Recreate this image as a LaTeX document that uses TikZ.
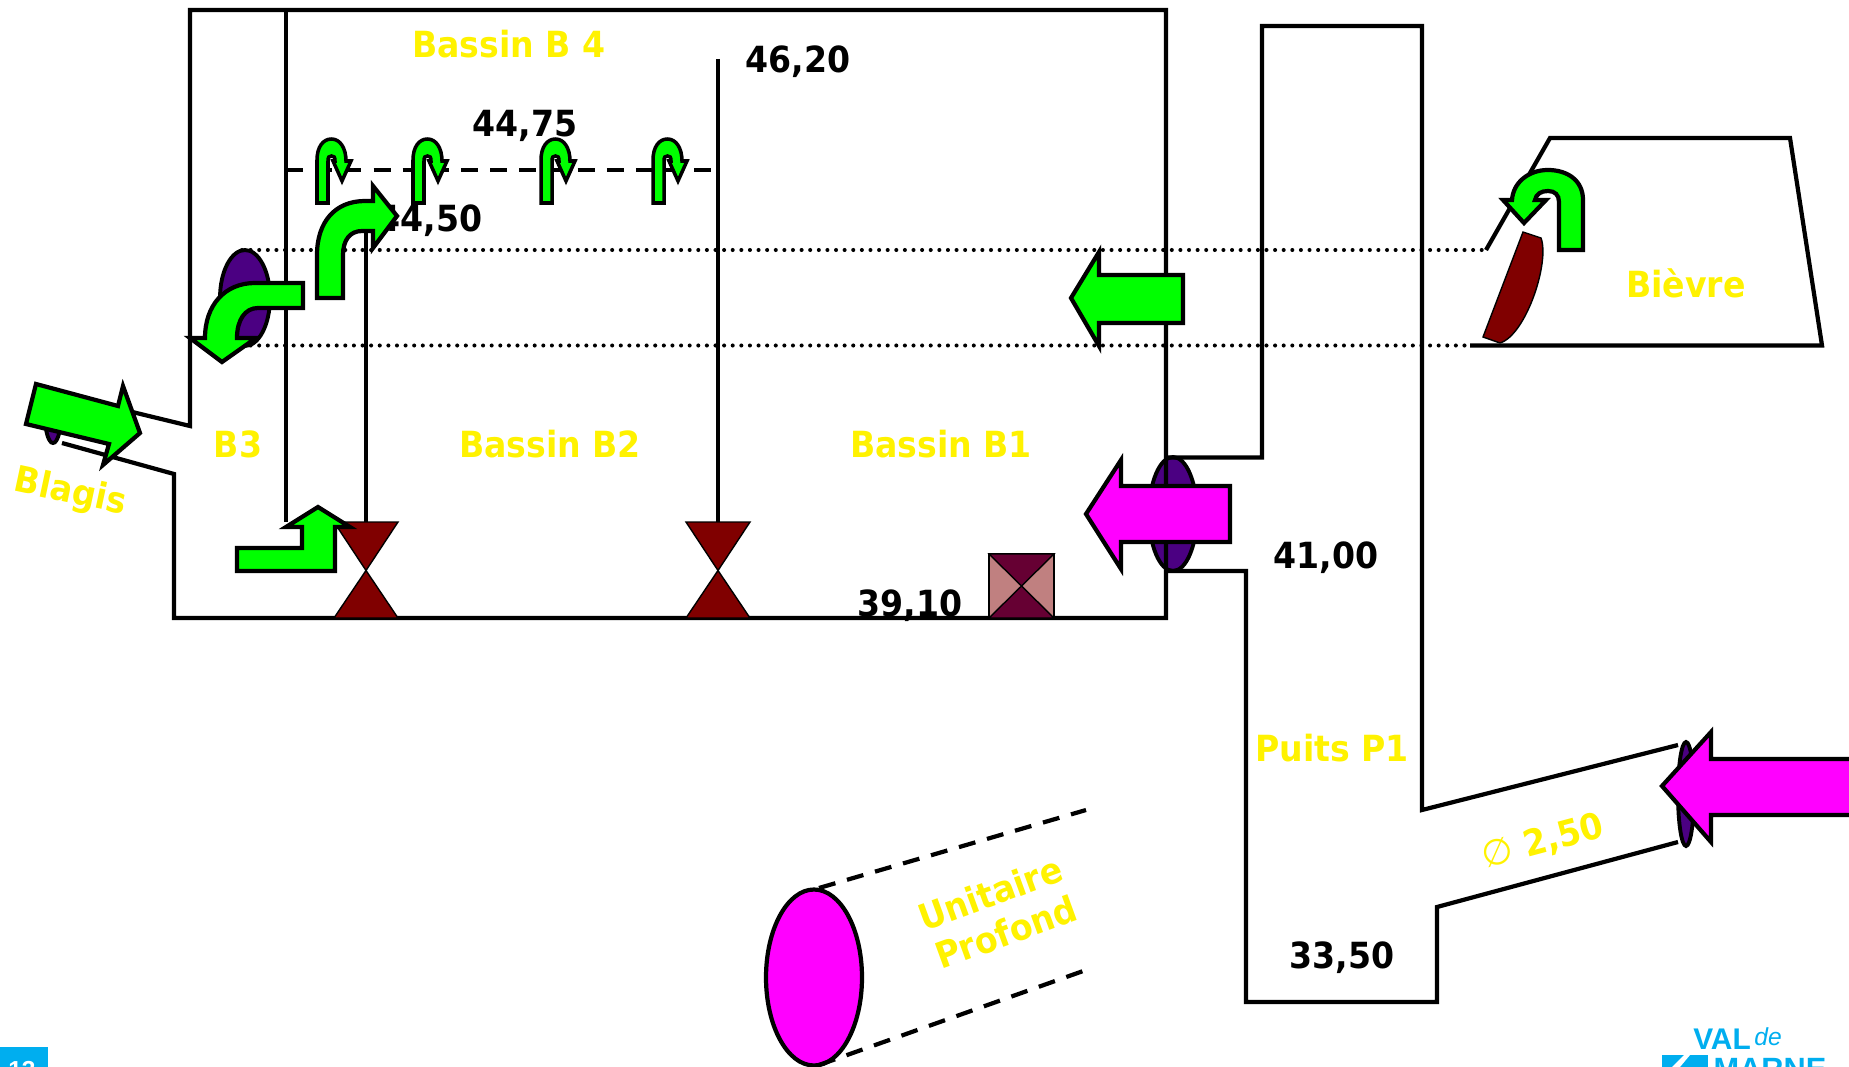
\documentclass[tikz,border=0pt]{standalone}
\usepackage{fontspec}
\setmainfont[FakeStretch=0.92]{DejaVu Sans}
\newfontfamily\plainfont{DejaVu Sans}
\newfontfamily\logofont{Liberation Sans}
\usetikzlibrary{shapes.geometric}
\definecolor{flow1}{HTML}{00FF00}
\definecolor{flow2}{HTML}{FF00FF}
\definecolor{gate1}{HTML}{4B0082}
\definecolor{gate2}{HTML}{800000}
\definecolor{vanne1}{HTML}{660033}
\definecolor{vanne2}{HTML}{C08080}
\definecolor{logo1}{HTML}{00AEEF}
\tikzstyle{wall_line}=[draw=black, line width=2.4pt, line join=miter]
\tikzstyle{level_line}=[draw=black, line width=2.4pt, dash pattern=on 9.7pt off 6.9pt]
\tikzstyle{dot_line}=[draw=black, line width=2.3pt, line cap=round, dash pattern=on 0pt off 4.9pt]
\tikzstyle{flow_green}=[draw=black, fill=flow1, line width=2.4pt, miter limit=10]
\tikzstyle{flow_pink}=[draw=black, fill=flow2, line width=2.4pt, miter limit=10]
\tikzstyle{gate_ellipse}=[ellipse, draw=black, fill=gate1, line width=2.2pt, inner sep=0pt]
\tikzstyle{valve_part}=[draw=black, fill=gate2, line width=0.8pt]
\tikzstyle{basin_label}=[text=yellow, inner sep=0pt, font=\bfseries\fontsize{20.5}{25}\selectfont]
\tikzstyle{level_label}=[text=black, inner sep=0pt, font=\bfseries\fontsize{20.5}{25}\selectfont]

\begin{document}
\begin{tikzpicture}[x=0.02cm, y=-0.02cm]
  \useasboundingbox (0,0) rectangle (1849,1067);
  \clip (0,0) rectangle (1849,1067);

  % gates under the arrows
  \node at (245,298) (G1) [gate_ellipse, minimum width=50*0.02cm, minimum height=96*0.02cm] {};
  \node at (1173,514) (G2) [gate_ellipse, minimum width=48*0.02cm, minimum height=114*0.02cm] {};
  \node at (1686,794) (G3) [gate_ellipse, minimum width=16*0.02cm, minimum height=104*0.02cm] {};
  \node at (53,416) (G4) [gate_ellipse, minimum width=16*0.02cm, minimum height=54*0.02cm] {};

  % levels
  \draw[dot_line] (242,250) -- (1486,250);
  \draw[dot_line] (242,345.5) -- (1470,345.5);
  \draw[level_line] (286,170) -- (713,170);

  % basin walls
  \draw[wall_line] (120,409) -- (190,426) -- (190,10) -- (1166,10) -- (1166,618) -- (174,618) -- (174,474) -- (62,443);
  \draw[wall_line] (286,10) -- (286,522);
  \draw[wall_line] (366,230) -- (366,522);
  \draw[wall_line] (718,59) -- (718,522);
  \draw[wall_line] (1166,457.5) -- (1262,457.5) -- (1262,26) -- (1422,26) -- (1422,810) -- (1678,745);
  \draw[wall_line] (1166,571) -- (1246,571) -- (1246,1002) -- (1437,1002) -- (1437,907) -- (1678,842);
  \draw[wall_line] (1486,250) -- (1550,138) -- (1790,138) -- (1822,345.5) -- (1470,345.5);

  % valves
  \foreach \vx in {366,718} {
    \draw[valve_part] (\vx-32,522) -- (\vx+32,522) -- (\vx,570.5) -- cycle;
    \draw[valve_part] (\vx-32,618) -- (\vx+32,618) -- (\vx,570.5) -- cycle;
  }

  % square valve
  \draw[draw=black, fill=vanne2, line width=1.6pt] (989,554) rectangle (1054,618);
  \draw[draw=black, fill=vanne1, line width=0.8pt] (989,554) -- (1054,554) -- (1021.5,586) -- cycle;
  \draw[draw=black, fill=vanne1, line width=0.8pt] (989,618) -- (1054,618) -- (1021.5,586) -- cycle;

  % Bievre gate
  \draw[draw=black, fill=gate2, line width=0.8pt] (1523,232) -- (1541,238) .. controls (1550,262) and (1526,335) .. (1500,343) -- (1483,337) -- cycle;

  % texts
  \node at (509,44) (T1) [basin_label] {Bassin B 4};
  \node at (238,444) (T2) [basin_label] {B3};
  \node at (550,444) (T3) [basin_label] {Bassin B2};
  \node at (941,444) (T4) [basin_label] {Bassin B1};
  \node at (1686,283) (T5) [basin_label] {Bièvre};
  \node at (1332,748) (T6) [basin_label] {Puits P1};
  \node at (70,493) (T7) [basin_label, rotate=-12] {Blagis};
  \node at (1543,842) (T8) [basin_label, rotate=15] {{\plainfont\mdseries ∅} 2,50};
  \node at (990,893) (T9) [basin_label, rotate=20] {Unitaire};
  \node at (1006,932) (T10) [basin_label, rotate=20] {Profond};
  \node at (798,62) (L1) [level_label] {46,20};
  \node at (525,126) (L2) [level_label] {44,75};
  \node at (430,221) (L3) [level_label] {44,50};
  \node at (910,606) (L4) [level_label] {39,10};
  \node at (1326,558) (L5) [level_label] {41,00};
  \node at (1342,958) (L6) [level_label] {33,50};

  % small turning arrows
  \foreach \ux in {317,413,541,653} {
    \begin{scope}[xshift=\ux*0.02cm]
      \draw[flow_green, line width=2pt] (0,203) -- (0,160) .. controls (0,147) and (6,139) .. (14.5,139)
        .. controls (23,139) and (29,148) .. (29,161) -- (34,161) -- (25,181) -- (16,161) -- (18,161)
        .. controls (18,157) and (17,156) .. (14.5,156) .. controls (12,156) and (11,157) .. (11,161) -- (11,203) -- cycle;
    \end{scope}
  }

  % green arrows
  \draw[flow_green] (317,298) -- (317,255) .. controls (317,222) and (335,201) .. (365,201) -- (373,201)
    -- (373,186) -- (397,216) -- (373,248) -- (373,231) -- (362,231) .. controls (350,231) and (343,240) .. (343,255) -- (343,298) -- cycle;
  \draw[flow_green] (303,283) -- (255,283) .. controls (225,283) and (205,305) .. (205,338) -- (190,338)
    -- (222,362) -- (256,338) -- (237,338) .. controls (237,320) and (245,308) .. (258,308) -- (303,308) -- cycle;
  \draw[flow_green] (237,571) -- (237,548) -- (302,548) -- (302,527) -- (286,527) -- (318,507) -- (350,527) -- (335,527) -- (335,571) -- cycle;
  \draw[flow_green] (36,384) -- (26,424) -- (109,444) -- (103,465) -- (140,433) -- (123,386) -- (118,406) -- cycle;
  \draw[flow_green] (1183,275) -- (1099,275) -- (1099,252) -- (1071,298) -- (1099,346) -- (1099,323) -- (1183,323) -- cycle;
  \draw[flow_green] (1583,250) -- (1583,200) .. controls (1583,180) and (1567,170) .. (1548,170)
    .. controls (1528,170) and (1513,183) .. (1512,200) -- (1503,200) -- (1524,223) -- (1546,200) -- (1535,200)
    .. controls (1536,194) and (1541,191) .. (1548,191) .. controls (1555,191) and (1559,195) .. (1559,202) -- (1559,250) -- cycle;

  % pink arrows
  \draw[flow_pink] (1230,486) -- (1121,486) -- (1121,460) -- (1086,514) -- (1121,569) -- (1121,542) -- (1230,542) -- cycle;
  \draw[flow_pink] (1860,759) -- (1711,759) -- (1711,732) -- (1662,786) -- (1711,842) -- (1711,815) -- (1860,815) -- cycle;

  % unitaire
  \node at (814,977.5) (G5) [ellipse, draw=black, fill=flow2, line width=2.4pt, inner sep=0pt, minimum width=96*0.02cm, minimum height=176*0.02cm] {};
  \draw[level_line] (819,888) -- (1086,810);
  \draw[level_line] (819,1065) -- (1086,970);

  % page number and logo
  \fill[fill=logo1] (0,1047) rectangle (48,1067);
  \node at (22,1070) (P1) [text=white, font=\logofont\bfseries\fontsize{14}{16}\selectfont] {13};
  \node at (1722,1039) (V1) [text=logo1, inner sep=0pt, font=\logofont\bfseries\fontsize{17}{20}\selectfont] {VAL};
  \node at (1768,1037) (V2) [text=logo1, inner sep=0pt, font=\logofont\itshape\fontsize{14}{16}\selectfont] {de};
  \node at (1770,1069) (V3) [text=logo1, inner sep=0pt, font=\logofont\bfseries\fontsize{17.5}{20}\selectfont] {MARNE};
  \fill[fill=logo1] (1662,1055) rectangle (1708,1067);
  \fill[fill=white] (1672,1067) -- (1684,1055) -- (1690,1055) -- (1680,1067) -- cycle;
\end{tikzpicture}
\end{document}
